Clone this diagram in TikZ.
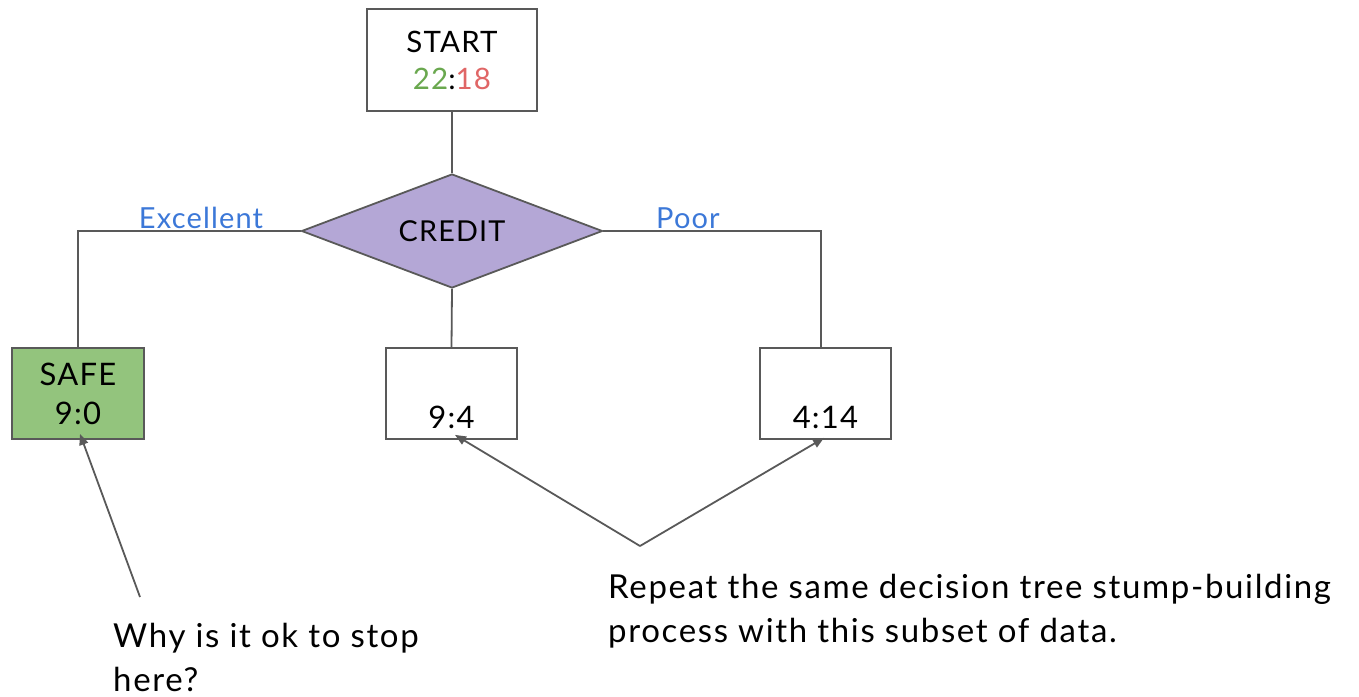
\documentclass[tikz,border=0pt]{standalone}
\usepackage{fontspec}
\setmainfont{Lato}[LetterSpace=4]
\newfontfamily\notefont{Lato}[LetterSpace=5]
\usetikzlibrary{shapes.geometric,arrows.meta}
\definecolor{edge}{HTML}{595959}
\definecolor{safegreen}{HTML}{93C47D}
\definecolor{splitpurple}{HTML}{B4A7D6}
\definecolor{posgreen}{HTML}{6AA84F}
\definecolor{negred}{HTML}{E06666}
\definecolor{branchblue}{HTML}{3C78D8}
\tikzset{
  box/.style={draw=edge, line width=1.8pt, inner sep=0pt, font=\fontsize{29.5}{37}\selectfont},
  split/.style={diamond, draw=edge, fill=splitpurple, line width=1.8pt, inner sep=0pt, aspect=2.64,
    minimum width=301pt, minimum height=114pt, font=\fontsize{28.8}{32}\selectfont},
  link/.style={draw=edge, line width=1.8pt},
  pointer/.style={draw=edge, line width=1.8pt, -{Triangle[length=11pt,width=9pt]}},
  branch/.style={text=branchblue, font=\fontsize{29}{31}\selectfont, inner sep=0pt},
  note/.style={align=left, anchor=north west, inner sep=0pt, font=\notefont\fontsize{33}{44}\selectfont}
}
\begin{document}
\begin{tikzpicture}[x=1pt,y=-1pt]
\useasboundingbox (0,0) rectangle (1359,696);
% root and split
\node[box, minimum width=170pt, minimum height=102pt, align=center] (start) at (452,60)
  {START\\\textcolor{posgreen}{22}:\textcolor{negred}{18}};
\node[split] (credit) at (452,231) {CREDIT};
% leaves
\node[box, fill=safegreen, minimum width=132pt, minimum height=91pt, align=center,
  font=\fontsize{31}{39}\selectfont] (safe) at (78,393.5)
  {SAFE\\9:0};
\node[box, minimum width=131pt, minimum height=91pt] (mid) at (451.5,393.5) {};
\node[anchor=base, inner sep=0pt, font=\fontsize{31}{37}\selectfont] (midtxt) at (451.5,428) {9:4};
\node[box, minimum width=131pt, minimum height=91pt] (poor) at (825.5,393.5) {};
\node[anchor=base, inner sep=0pt, font=\fontsize{31}{37}\selectfont] (poortxt) at (825.5,428) {4:14};
% tree edges
\draw[link] (start.south) -- (credit.north);
\draw[link] (credit.west) -| (safe.north);
\draw[link] (credit.south) -- (mid.north);
\draw[link] (credit.east) -| ([xshift=-4.5pt]poor.north);
% branch labels
\node[branch] (exc) at (201,218) {Excellent};
\node[branch] (pr) at (688,218) {Poor};
% notes
\node[note] (why) at (113,623) {Why is it ok to stop\\here?};
\node[note] (rep) at (608,574) {Repeat the same decision tree stump-building\\process with this subset of data.};
\coordinate (whytip) at (140,597);
\coordinate (apex) at (640,546);
\draw[pointer] (whytip) -- ([xshift=2pt,yshift=6pt]safe.south);
\draw[pointer] (apex) -- ([xshift=3.5pt,yshift=5pt]mid.south);
\draw[pointer] (apex) -- ([xshift=-1.5pt,yshift=2pt]poor.south);
\end{tikzpicture}
\end{document}
